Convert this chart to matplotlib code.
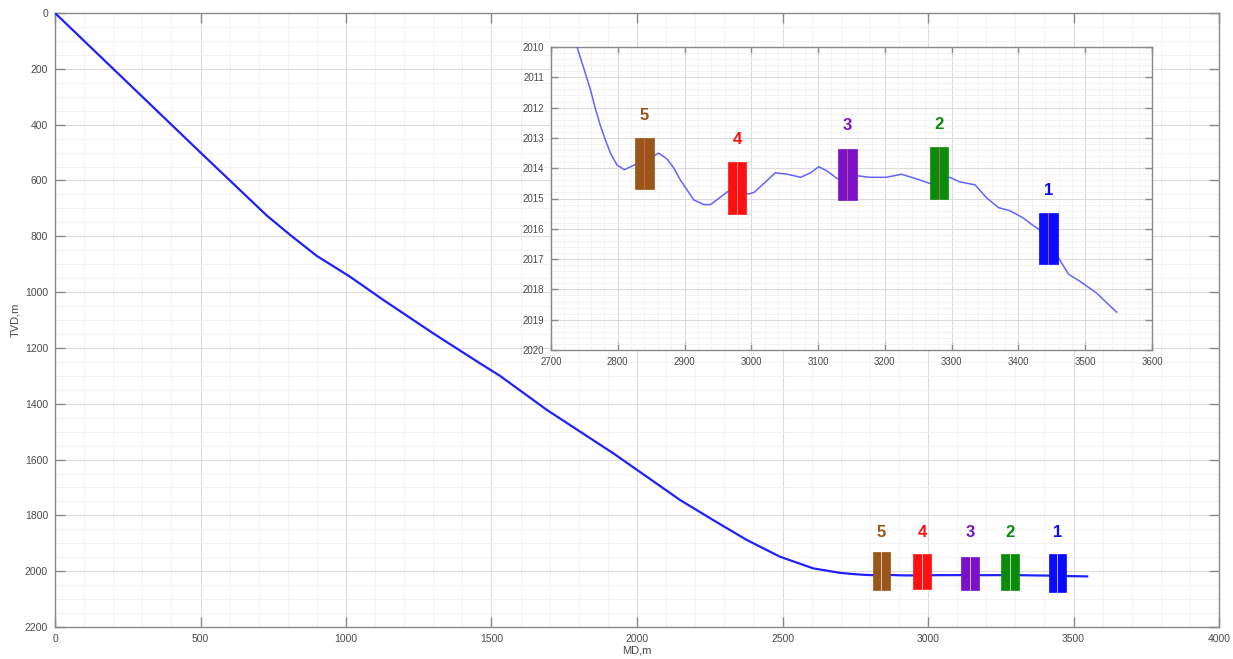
import matplotlib
matplotlib.use("Agg")
import matplotlib.pyplot as plt
from matplotlib.patches import Rectangle
from matplotlib.ticker import MultipleLocator

plt.rcParams["font.family"] = ["Liberation Sans", "DejaVu Sans"]

# ---- data ----
md_upper = [0, 498, 613, 727, 808, 899, 1014, 1128, 1300, 1460, 1529, 1690, 1919,
            2033, 2148, 2262, 2377, 2491, 2606, 2698]
tvd_upper = [0, 498, 612, 725, 795, 870, 945, 1028, 1148, 1255, 1300, 1422, 1578,
             1661, 1745, 1817, 1888, 1948, 1990, 2006]

md_lower = [2739, 2749, 2759, 2766, 2774, 2782, 2789, 2799, 2810, 2824, 2840, 2854,
            2861, 2874, 2884, 2894, 2914, 2929, 2939, 2954, 2966, 2980, 2996, 3004,
            3019, 3036, 3054, 3074, 3089, 3101, 3114, 3129, 3144, 3159, 3177, 3202,
            3225, 3247, 3267, 3281, 3297, 3312, 3335, 3352, 3370, 3387, 3407, 3420,
            3431, 3445, 3460, 3475, 3492, 3517, 3535, 3547]
tvd_lower = [2010.0, 2010.7, 2011.4, 2012.0, 2012.6, 2013.1, 2013.5, 2013.9, 2014.05,
             2013.9, 2013.75, 2013.6, 2013.5, 2013.7, 2014.0, 2014.4, 2015.05, 2015.2,
             2015.2, 2014.95, 2014.75, 2014.8, 2014.85, 2014.8, 2014.5, 2014.15,
             2014.2, 2014.3, 2014.15, 2013.95, 2014.1, 2014.35, 2014.3, 2014.25,
             2014.3, 2014.3, 2014.2, 2014.35, 2014.5, 2014.4, 2014.3, 2014.45,
             2014.55, 2014.97, 2015.3, 2015.4, 2015.64, 2015.86, 2016.02, 2016.5,
             2016.96, 2017.5, 2017.73, 2018.12, 2018.5, 2018.75]

md = md_upper + md_lower
tvd = tvd_upper + tvd_lower

zone_labels = ["5", "4", "3", "2", "1"]
zone_colors = ["#9a5518", "#ff1010", "#7a10c8", "#0a8c0a", "#0a0aff"]
zone_md = [2840, 2979, 3144, 3281, 3445]
# inset (zoomed) zone tops / bottoms
zone_top = [2013.0, 2013.8, 2013.35, 2013.3, 2015.47]
zone_bot = [2014.67, 2015.5, 2015.05, 2015.03, 2017.16]
# main-view zone tops / bottoms
zone_top_main = [1932, 1938, 1950, 1938, 1938]
zone_bot_main = [2067, 2065, 2067, 2067, 2075]

# ---- figure ----
W, H = 1233, 659
fig = plt.figure(figsize=(W / 100, H / 100), dpi=100)
fig.patch.set_facecolor("white")

spine_col = "#8a8a8a"
tick_col = "#4a4a4a"


def style(ax, ticklen, fs):
    for s in ax.spines.values():
        s.set_color(spine_col)
        s.set_linewidth(1.0)
    ax.tick_params(which="major", direction="in", length=ticklen, width=1.0,
                   color=spine_col, labelcolor=tick_col, labelsize=fs,
                   top=True, right=True, pad=5)
    ax.tick_params(which="minor", length=0, top=True, right=True)
    ax.grid(which="major", color="#dcdcdc", linewidth=0.8)
    ax.grid(which="minor", color="#f0f0f0", linewidth=0.6)
    ax.set_axisbelow(True)


ax = fig.add_axes([55 / W, 1 - 627 / H, (1219 - 55) / W, (627 - 13) / H])
ax.plot(md, tvd, color="#2020ff", lw=1.6, zorder=3)
ax.set_xlim(0, 4000)
ax.set_ylim(2200, 0)
ax.xaxis.set_major_locator(MultipleLocator(500))
ax.xaxis.set_minor_locator(MultipleLocator(100))
ax.yaxis.set_major_locator(MultipleLocator(200))
ax.yaxis.set_minor_locator(MultipleLocator(50))
style(ax, 7, 7.5)
ax.set_xlabel("MD,m", fontsize=8, color=tick_col, labelpad=1)
ax.set_ylabel("TVD,m", fontsize=8, color=tick_col, labelpad=3)

wmain = 60
for lab, c, x, t, b in zip(zone_labels, zone_colors, zone_md, zone_top_main, zone_bot_main):
    ax.add_patch(Rectangle((x - wmain / 2, t), wmain, b - t, facecolor=c,
                           edgecolor=c, lw=0.5, zorder=4))
    ax.plot([x, x], [t, b], color="white", lw=0.7, alpha=0.7, zorder=5)
    ax.text(x, 1860, lab, color=c, fontsize=12, fontweight="bold",
            ha="center", va="center", zorder=5)

# ---- inset ----
ai = fig.add_axes([551 / W, 1 - 350 / H, (1152 - 551) / W, (350 - 47) / H])
ai.set_facecolor("white")
ai.plot(md, tvd, color="#6464ff", lw=1.1, zorder=3)
ai.set_xlim(2700, 3600)
ai.set_ylim(2020, 2010)
ai.xaxis.set_major_locator(MultipleLocator(100))
ai.xaxis.set_minor_locator(MultipleLocator(20))
ai.yaxis.set_major_locator(MultipleLocator(1))
ai.yaxis.set_minor_locator(MultipleLocator(0.2))
style(ai, 5, 7)

wins = 27
for lab, c, x, t, b in zip(zone_labels, zone_colors, zone_md, zone_top, zone_bot):
    ai.add_patch(Rectangle((x - wins / 2, t), wins, b - t, facecolor=c,
                           edgecolor=c, lw=0.5, zorder=4))
    ai.plot([x, x], [t, b], color="#e06060" if c != "#ff1010" else "#ffa0a0",
            lw=0.7, alpha=0.8, zorder=5)
    ai.text(x, t - 0.75, lab, color=c, fontsize=12, fontweight="bold",
            ha="center", va="center", zorder=5)

fig.savefig("out.png", dpi=100, facecolor="white")
